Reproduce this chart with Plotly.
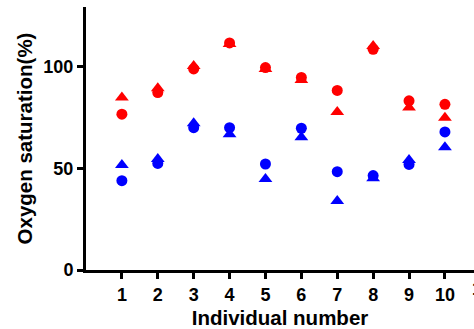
import plotly.graph_objects as go

individuals = [1, 2, 3, 4, 5, 6, 7, 8, 9, 10]
red_circle = [76.7, 87.4, 99.0, 111.8, 99.7, 94.8, 88.4, 108.7, 83.3, 81.6]
red_triangle = [84.9, 89.5, 100.5, 111.3, 99.0, 93.6, 77.8, 110.3, 80.0, 75.0]
blue_circle = [44.0, 52.5, 70.1, 70.1, 52.2, 69.8, 48.4, 46.5, 52.0, 68.0]
blue_triangle = [51.7, 54.7, 72.3, 66.9, 44.8, 65.4, 34.0, 45.2, 54.2, 60.4]
x_ticks = [1, 2, 3, 4, 5, 6, 7, 8, 9, 10]
y_ticks = [0, 50, 100]

RED = "#FF0000"
BLUE = "#0000FF"
FONT = "Arial, Liberation Sans, sans-serif"

fig = go.Figure()
for vals, color in [(red_triangle, RED), (blue_triangle, BLUE)]:
    fig.add_trace(go.Scatter(x=individuals, y=vals, mode="markers",
                             marker=dict(symbol="triangle-up", size=12, color=color,
                                         line=dict(width=0)),
                             showlegend=False, cliponaxis=False))
for vals, color in [(red_circle, RED), (blue_circle, BLUE)]:
    fig.add_trace(go.Scatter(x=individuals, y=vals, mode="markers",
                             marker=dict(symbol="circle", size=11, color=color,
                                         line=dict(width=0)),
                             showlegend=False, cliponaxis=False))

fig.update_layout(
    width=474, height=329,
    margin=dict(l=86, r=0, t=7, b=59, autoexpand=False),
    plot_bgcolor="white", paper_bgcolor="white",
    font=dict(family=FONT, color="black"),
    xaxis=dict(range=[0, 10.81], tickvals=x_ticks, ticks="outside", ticklen=6,
               tickwidth=3, tickcolor="black", showline=True, linewidth=3,
               linecolor="black", showgrid=False, zeroline=False, automargin=False,
               tickfont=dict(size=18, weight="bold", family=FONT),
               title=dict(text="Individual number", font=dict(size=20.5, weight="bold", family=FONT),
                          standoff=9)),
    yaxis=dict(range=[0, 129.5], tickvals=y_ticks, ticks="outside", ticklen=6,
               tickwidth=3, tickcolor="black", showline=True, linewidth=3,
               linecolor="black", showgrid=False, zeroline=False, automargin=False,
               tickfont=dict(size=18, weight="bold", family=FONT),
               title=dict(text="Oxygen saturation(%)", font=dict(size=20.5, weight="bold", family=FONT),
                          standoff=6)),
)
fig.add_annotation(text="11", xref="paper", yref="paper", x=(481 - 86) / 388, y=0,
                   yshift=-19, xanchor="center", yanchor="middle", showarrow=False,
                   font=dict(size=18, weight="bold", family=FONT))

fig.write_html("out.html", config={"displayModeBar": False},
               post_script="document.body.style.margin='0';document.body.style.overflow='hidden';")
